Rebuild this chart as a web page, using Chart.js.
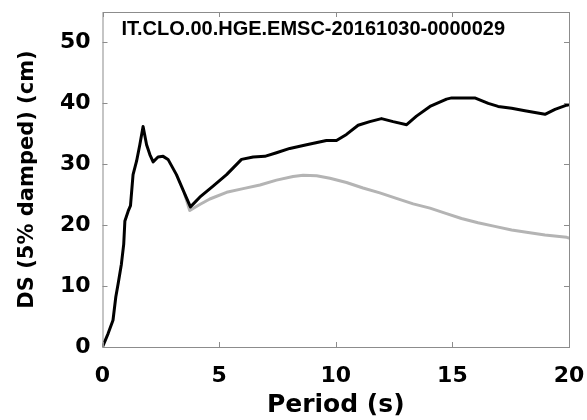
<!DOCTYPE html>
<html>
<head>
<meta charset="utf-8">
<script src="https://cdn.jsdelivr.net/npm/chart.js@4"></script>
<style>
  html, body { margin: 0; padding: 0; background: #fff; }
  #wrap { width: 587px; height: 420px; }
</style>
</head>
<body>
<div id="wrap"><canvas id="chart" width="587" height="420"></canvas></div>
<script>
const stationLabel = 'IT.CLO.00.HGE.EMSC-20161030-0000029';

// recorded spectrum (black)
const recPeriod = [0, 0.24, 0.45, 0.57, 0.67, 0.81, 0.91, 0.96, 1.1, 1.2, 1.31, 1.46, 1.6, 1.74, 1.89, 2.03, 2.17, 2.38, 2.6, 2.81, 3.17, 3.53, 3.77, 4.17, 4.74, 5.32, 5.96, 6.46, 6.96, 7.46, 8.03, 8.75, 9.6, 10.03, 10.46, 10.96, 11.46, 11.96, 12.46, 13.04, 13.46, 14.04, 14.75, 14.97, 15.96, 16.54, 16.96, 17.54, 18.11, 18.54, 18.97, 19.4, 19.9, 20];
const recDS = [0, 2.2, 4.4, 8.2, 10.4, 13.6, 16.9, 20.7, 22.3, 23.2, 28.3, 30.5, 33.2, 36.2, 33.2, 31.6, 30.4, 31.2, 31.3, 30.8, 28.3, 25.1, 23.0, 24.6, 26.4, 28.3, 30.8, 31.2, 31.3, 31.9, 32.6, 33.2, 33.9, 33.9, 34.9, 36.4, 37.0, 37.5, 37.0, 36.5, 37.9, 39.5, 40.7, 40.9, 40.9, 40.0, 39.5, 39.2, 38.8, 38.5, 38.2, 39.0, 39.7, 39.8];

// second spectrum (gray), same as black below ~3.7 s
const grayPeriod = [3.53, 3.74, 4.17, 4.6, 5.32, 6.03, 6.75, 7.46, 8.17, 8.6, 9.18, 9.75, 10.46, 11.17, 11.89, 12.6, 13.32, 14.04, 14.75, 15.39, 16.1, 16.82, 17.54, 18.25, 18.97, 19.9, 20];
const grayDS = [25.0, 22.4, 23.4, 24.3, 25.4, 26.0, 26.6, 27.4, 28.0, 28.2, 28.1, 27.7, 27.0, 26.1, 25.3, 24.4, 23.5, 22.8, 21.9, 21.1, 20.4, 19.8, 19.2, 18.8, 18.4, 18.0, 17.9];

const xTicks = [0, 5, 10, 15, 20];
const yTicks = [0, 10, 20, 30, 40, 50];

const toPoints = (xs, ys) => xs.map((x, i) => ({ x: x, y: ys[i] }));

// box round the plot, inward ticks on all four sides, label in the corner
const framePlugin = {
  id: 'frame',
  afterDraw(chart) {
    const { ctx, chartArea: a, scales } = chart;
    ctx.save();
    ctx.strokeStyle = '#8c8c8c';
    ctx.lineWidth = 1;
    ctx.strokeRect(a.left + 0.5, a.top + 0.5, a.right - a.left, a.bottom - a.top);
    ctx.beginPath();
    xTicks.forEach(v => {
      const px = Math.round(scales.x.getPixelForValue(v)) + 0.5;
      ctx.moveTo(px, a.bottom); ctx.lineTo(px, a.bottom - 5);
      ctx.moveTo(px, a.top); ctx.lineTo(px, a.top + 5);
    });
    yTicks.forEach(v => {
      const py = Math.round(scales.y.getPixelForValue(v)) + 0.5;
      ctx.moveTo(a.left, py); ctx.lineTo(a.left + 5, py);
      ctx.moveTo(a.right, py); ctx.lineTo(a.right - 5, py);
    });
    ctx.stroke();
    ctx.fillStyle = '#000';
    ctx.font = 'bold 20px "Liberation Sans", Arial, sans-serif';
    ctx.textBaseline = 'alphabetic';
    ctx.fillText(stationLabel, a.left + 19, a.top + 22.5);
    ctx.restore();
  }
};

const tickFont = { family: '"DejaVu Sans", sans-serif', size: 22, weight: 'bold' };

new Chart(document.getElementById('chart').getContext('2d'), {
  type: 'line',
  data: {
    datasets: [{
      data: toPoints(recPeriod, recDS),
      borderColor: '#000',
      borderWidth: 3,
      pointRadius: 0,
      tension: 0,
      borderJoinStyle: 'round',
      borderCapStyle: 'round'
    }, {
      data: toPoints(grayPeriod, grayDS),
      borderColor: '#b4b4b4',
      borderWidth: 3,
      pointRadius: 0,
      tension: 0,
      borderJoinStyle: 'round',
      borderCapStyle: 'round'
    }]
  },
  options: {
    responsive: false,
    animation: false,
    events: [],
    layout: { padding: { left: 0, right: 18, top: 12, bottom: 0 } },
    plugins: { legend: { display: false }, tooltip: { enabled: false } },
    scales: {
      x: {
        type: 'linear',
        min: 0, max: 20,
        grid: { display: false, drawTicks: false },
        border: { display: false },
        ticks: {
          stepSize: 5, includeBounds: false,
          color: '#000', font: tickFont, padding: 16, maxRotation: 0
        },
        title: {
          display: true, text: 'Period (s)', color: '#000',
          font: { family: '"DejaVu Sans", sans-serif', size: 25, weight: 'bold' },
          padding: { top: 0, bottom: 0 }
        },
        afterFit(scale) {
          scale.height = 73;
          scale.paddingLeft = 0;
          scale.paddingRight = 0;
        }
      },
      y: {
        min: 0, max: 55,
        grid: { display: false, drawTicks: false },
        border: { display: false },
        ticks: {
          stepSize: 10, includeBounds: false,
          color: '#000', font: tickFont, padding: 12
        },
        title: {
          display: true, text: 'DS (5% damped) (cm)', color: '#000',
          font: { family: '"DejaVu Sans", sans-serif', size: 21, weight: 'bold' },
          padding: { top: 15, bottom: 0 }
        },
        afterFit(scale) {
          scale.width = 102.5;
          scale.paddingTop = 0;
          scale.paddingBottom = 0;
        }
      }
    }
  },
  plugins: [framePlugin]
});
</script>
</body>
</html>
